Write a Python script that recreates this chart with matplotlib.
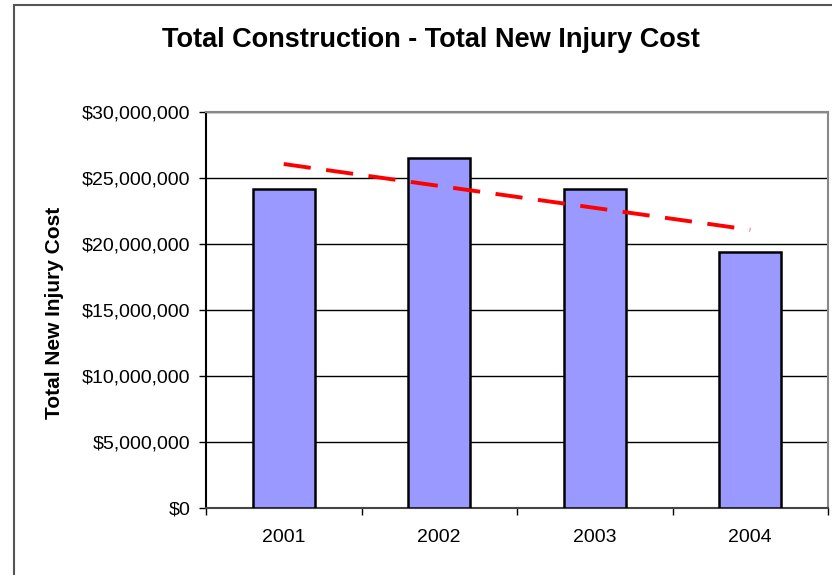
import matplotlib
matplotlib.use('Agg')
from matplotlib import pyplot as plt
from matplotlib.patches import Rectangle
from matplotlib.ticker import FuncFormatter, MultipleLocator, FixedLocator
import numpy as np

# Data
years = ['2001', '2002', '2003', '2004']
injury_cost = [24170000, 26500000, 24200000, 19400000]

plt.rcParams['font.family'] = ['Liberation Sans', 'DejaVu Sans']

fig = plt.figure(figsize=(8.32, 5.75), dpi=100, facecolor='white')

# Outer chart-area border (Excel style), clipped by the image edges
fig.patches.append(Rectangle((14 / 832, -0.1), 1.2, 1 - 5 / 575 + 0.1,
                             transform=fig.transFigure, fill=False,
                             edgecolor='#555555', linewidth=1.5))

ax = fig.add_axes([206 / 832, 1 - 508 / 575, 622 / 832, 396 / 575])

x = np.arange(len(years))
ax.bar(x, injury_cost, width=0.4, color='#9999ff', edgecolor='black',
       linewidth=1.8, zorder=3)

# Linear trendline
coef = np.polyfit(x, injury_cost, 1)
ax.plot(x, np.polyval(coef, x), color='red', linestyle=(0, (7, 4)),
        linewidth=2.8, zorder=4)

ax.set_xlim(-0.5, len(years) - 0.5)
ax.set_ylim(0, 30000000)
ax.yaxis.set_major_locator(MultipleLocator(5000000))
ax.yaxis.set_major_formatter(FuncFormatter(lambda v, p: '${:,.0f}'.format(v)))
ax.grid(axis='y', color='black', linewidth=1, zorder=1)

ax.set_xticks(x)
ax.set_xticklabels(years)
ax.xaxis.set_minor_locator(FixedLocator(np.arange(-0.5, len(years), 1.0)))
ax.tick_params(axis='x', which='major', length=0, pad=15, labelsize=14)
ax.tick_params(axis='x', which='minor', length=5, width=1, color='black')
ax.tick_params(axis='y', length=5, width=1, pad=6, labelsize=14)

ax.spines['left'].set_color('black')
ax.spines['bottom'].set_color('#444444')
ax.spines['top'].set_color('#888888')
ax.spines['right'].set_color('#888888')
for s in ax.spines.values():
    s.set_linewidth(1.5)

ax.set_ylabel('Total New Injury Cost', fontsize=15, fontweight='bold')
ax.yaxis.set_label_coords((64 - 206) / 622, (508 - 312.5) / 396)
fig.text(431 / 832, 1 - 40 / 575, 'Total Construction - Total New Injury Cost',
         ha='center', va='center', fontsize=19.5, fontweight='bold')

fig.savefig('out.png', dpi=100)
